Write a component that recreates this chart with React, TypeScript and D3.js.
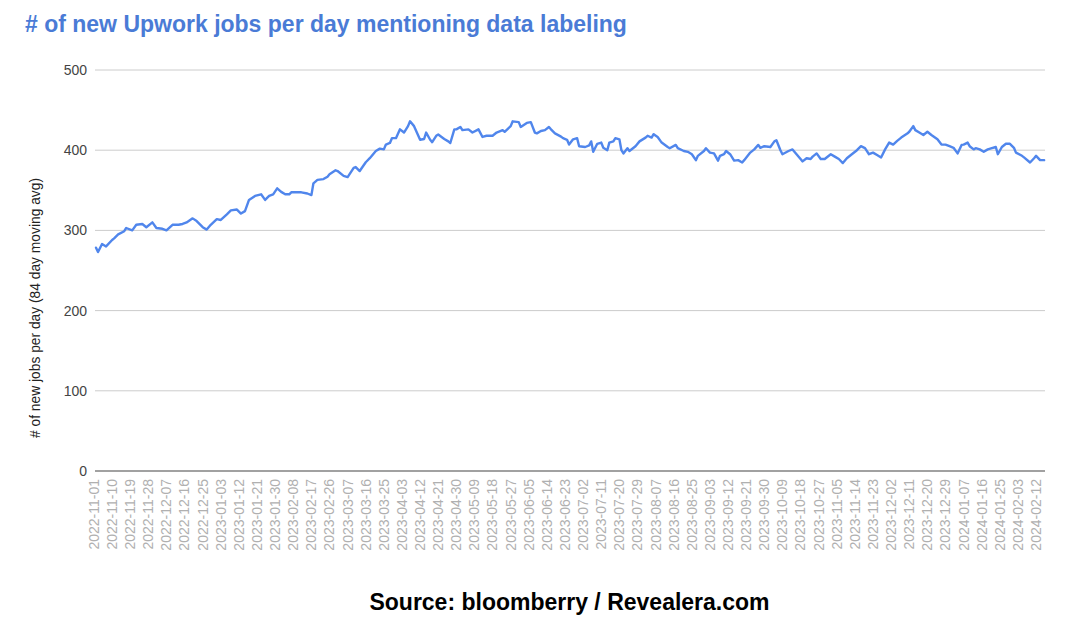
import React from "react";
import * as d3 from "d3";

const TITLE = "# of new Upwork jobs per day mentioning data labeling";
const Y_TITLE = "# of new jobs per day (84 day moving avg)";
const SOURCE = "Source: bloomberry / Revealera.com";

// day offsets from 2022-11-01
const DAY = [
  1, 2, 4, 6, 9, 10, 12, 15, 16, 19, 21, 24, 26, 29, 31, 34, 36, 39, 42, 44, 46, 49, 51, 54, 56, 58,
  61, 63, 66, 68, 71, 73, 75, 77, 80, 83, 85, 87, 89, 91, 93, 95, 97, 98, 101, 103, 106, 108, 109,
  111, 114, 116, 117, 120, 121, 124, 126, 129, 130, 132, 135, 137, 140, 142, 144, 145, 147, 148,
  150, 152, 154, 156, 157, 159, 162, 164, 165, 167, 168, 170, 171, 174, 176, 177, 179, 180, 182,
  183, 186, 188, 191, 193, 195, 198, 200, 203, 204, 207, 208, 211, 212, 215, 217, 219, 220, 222,
  224, 226, 227, 229, 232, 233, 235, 236, 238, 240, 241, 244, 246, 247, 248, 250, 252, 253, 255,
  256, 258, 259, 261, 262, 263, 265, 266, 269, 271, 274, 275, 277, 278, 280, 282, 285, 286, 289,
  290, 293, 295, 297, 299, 300, 303, 304, 306, 308, 310, 311, 313, 314, 316, 318, 320, 322, 323,
  326, 328, 330, 331, 333, 336, 338, 339, 341, 342, 345, 347, 349, 351, 352, 354, 356, 357, 359,
  361, 363, 366, 368, 370, 372, 374, 376, 379, 381, 383, 385, 387, 389, 391, 393, 395, 397, 399,
  401, 404, 405, 407, 408, 410, 412, 414, 416, 419, 421, 423, 425, 427, 429, 431, 432, 434, 435,
  437, 438, 440, 442, 444, 446, 448, 449, 451, 453, 455, 457, 458, 461, 462, 465, 467, 468, 470, 472,
];

const VALUE = [
  278.5, 273, 283, 280, 288, 290, 295, 299, 303, 300, 307, 308, 304, 310, 303, 302, 300, 307, 307,
  308, 310, 315, 311.6, 304, 301, 307, 314, 313, 320, 325, 326, 321, 324, 338, 343, 345, 338, 343,
  345, 352.5, 348, 345, 345, 347.5, 347.5, 347.5, 346, 344, 358.7, 363, 364, 367, 370, 375, 374,
  368, 366.5, 378, 379, 374, 385, 390, 399, 402, 401, 407, 409, 415, 415, 426, 422, 430, 436, 430,
  413, 414, 422, 413, 410, 418, 419.5, 414, 411, 409, 426, 426, 429, 425, 426, 422, 426, 416.5, 418,
  418, 422, 425, 423, 430, 436, 435, 429, 434, 435, 422, 421, 424, 425, 429, 426, 421, 417, 415,
  413, 407, 413.6, 415, 405, 404, 406, 411, 398, 408, 409.5, 403, 400, 409.5, 411, 415, 413.6, 400,
  396, 402.5, 399, 405, 411, 415.7, 418, 415.7, 420, 416.5, 409.5, 404, 402.5, 406.6, 402.5, 399,
  398, 395, 387.6, 393, 399, 402.5, 397, 396, 387, 393, 395, 399, 395, 387, 387.6, 384.7, 387.6,
  397, 401, 406.6, 403, 405, 404, 411, 412.4, 400, 395, 399, 401, 395, 389, 386, 390, 389, 392,
  396, 389, 389, 395, 392, 389, 384, 390, 394, 400, 405, 402.5, 395, 397, 394, 391, 401, 409.5,
  407, 411.6, 415.7, 420.7, 423, 430, 425, 422, 419, 423, 419, 413.6, 407, 407, 405, 403, 396,
  406.6, 407, 409.5, 405, 401, 402.5, 401, 398, 401, 402.5, 404, 395, 404, 408, 408, 403, 397,
  393, 391, 384.7, 390, 393, 387.6, 387.6,
];

const X_LABELS = [
  "2022-11-01", "2022-11-10", "2022-11-19", "2022-11-28", "2022-12-07", "2022-12-16", "2022-12-25",
  "2023-01-03", "2023-01-12", "2023-01-21", "2023-01-30", "2023-02-08", "2023-02-17", "2023-02-26",
  "2023-03-07", "2023-03-16", "2023-03-25", "2023-04-03", "2023-04-12", "2023-04-21", "2023-04-30",
  "2023-05-09", "2023-05-18", "2023-05-27", "2023-06-05", "2023-06-14", "2023-06-23", "2023-07-02",
  "2023-07-11", "2023-07-20", "2023-07-29", "2023-08-07", "2023-08-16", "2023-08-25", "2023-09-03",
  "2023-09-12", "2023-09-21", "2023-09-30", "2023-10-09", "2023-10-18", "2023-10-27", "2023-11-05",
  "2023-11-14", "2023-11-23", "2023-12-02", "2023-12-11", "2023-12-20", "2023-12-29", "2024-01-07",
  "2024-01-16", "2024-01-25", "2024-02-03", "2024-02-12",
];
const LABEL_STEP_DAYS = 9;
const Y_TICKS = [0, 100, 200, 300, 400, 500];

const W = 1080;
const H = 635;
const PLOT = { left: 94, right: 1045, top: 70, bottom: 471 };

export default function App() {
  const x = d3.scaleLinear().domain([0, 472]).range([PLOT.left, PLOT.left + 472 * 2.013]);
  const y = d3.scaleLinear().domain([0, 500]).range([PLOT.bottom, PLOT.top]);
  const pts = DAY.map((d, i) => [d, VALUE[i]] as [number, number]);
  const line = d3
    .line<[number, number]>()
    .x((p) => x(p[0]))
    .y((p) => y(p[1]));
  const font = "'Liberation Sans', Arial, sans-serif";

  return (
    <svg
      width={W}
      height={H}
      style={{ position: "absolute", left: 0, top: 0, background: "#fff" }}
      fontFamily={font}
    >
      <rect x={0} y={0} width={W} height={H} fill="#fff" />
      <text x={25} y={32} fontSize={23} fontWeight="bold" fill="#4a7bd6">
        {TITLE}
      </text>
      {Y_TICKS.filter((t) => t !== 0).map((t) => (
        <line key={t} x1={PLOT.left + 1} x2={PLOT.right} y1={y(t)} y2={y(t)} stroke="#cccccc" strokeWidth={1} />
      ))}
      {Y_TICKS.map((t) => (
        <text key={t} x={87} y={y(t)} dy="0.35em" textAnchor="end" fontSize={14} fill="#444">
          {t}
        </text>
      ))}
      <text
        transform={`translate(40, 308) rotate(-90)`}
        textAnchor="middle"
        fontSize={13.8}
        fill="#222"
      >
        {Y_TITLE}
      </text>
      <path d={line(pts) || ""} fill="none" stroke="#5086ec" strokeWidth={2.4} strokeLinejoin="round" strokeLinecap="round" />
      <line x1={PLOT.left + 1} x2={PLOT.right} y1={y(0)} y2={y(0)} stroke="#444" strokeWidth={1.2} />
      {X_LABELS.map((lab, i) => (
        <text
          key={lab}
          transform={`translate(${x(i * LABEL_STEP_DAYS)}, 479) rotate(-90)`}
          textAnchor="end"
          dy="0.35em"
          fontSize={14}
          fill="#b0b0b0"
        >
          {lab}
        </text>
      ))}
      <text x={569.5} y={610} textAnchor="middle" fontSize={23} fontWeight="bold" fill="#000">
        {SOURCE}
      </text>
    </svg>
  );
}
